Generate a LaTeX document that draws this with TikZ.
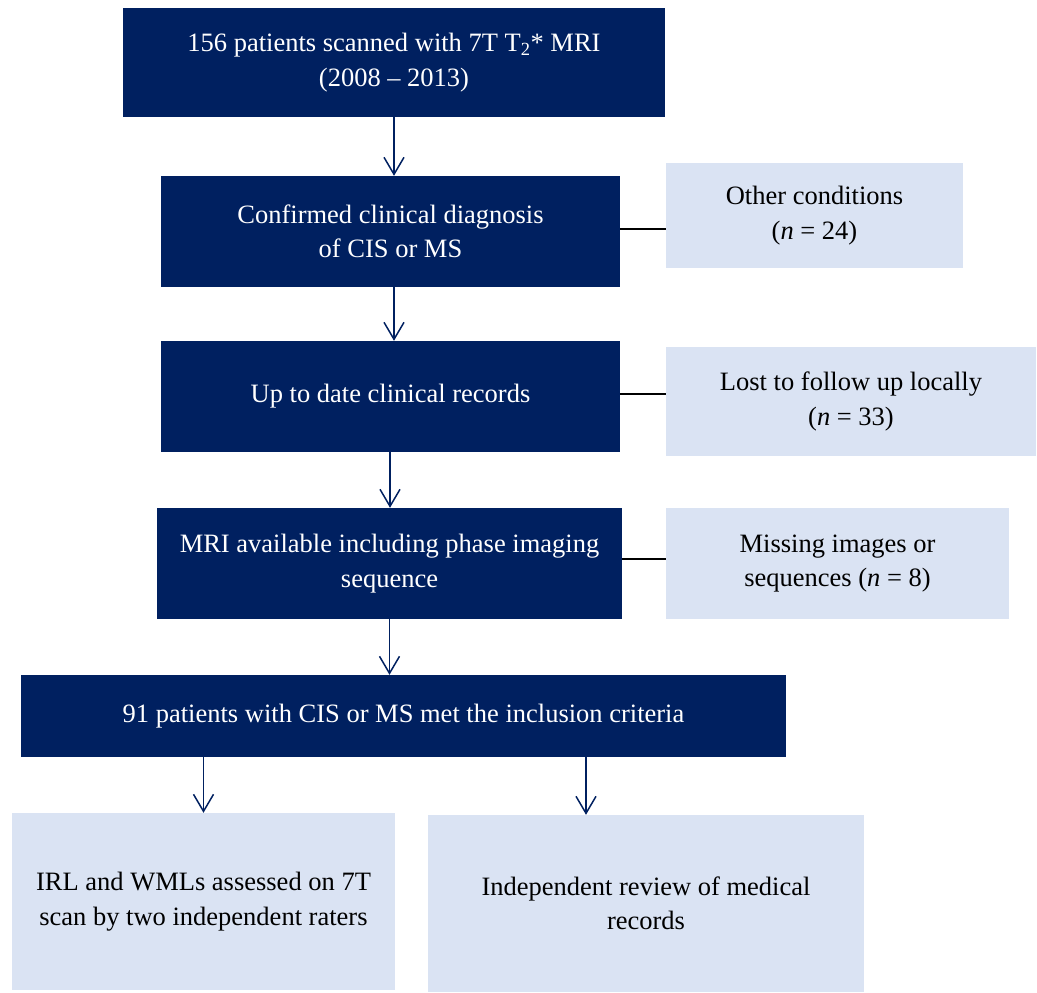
\documentclass[tikz,border=0pt]{standalone}
\usepackage{fontspec}
\setmainfont{Liberation Serif}
\usetikzlibrary{arrows.meta}
\definecolor{navy}{HTML}{002060}
\definecolor{pale}{HTML}{DAE3F3}
\begin{document}
\begin{tikzpicture}[x=1pt,y=-1pt,
  dark/.style={fill=navy,draw=none,text=white,align=center,inner sep=0pt,
    font=\fontsize{26.5}{34.5}\selectfont},
  light/.style={fill=pale,draw=none,text=black,align=center,inner sep=0pt,
    font=\fontsize{26.5}{34.5}\selectfont},
  arr/.style={draw=navy,line width=1.5pt,-{Straight Barb[length=17pt,width=20pt,line width=1.5pt]}},
  side/.style={draw=black,line width=1.5pt}]
\useasboundingbox (0,0) rectangle (1037,993);
\node[dark,minimum width=542pt,minimum height=109pt] (n1) at (394,62.5)
  {156 patients scanned with 7T T\textsubscript{2}* MRI\\(2008 -- 2013)};
\node[dark,minimum width=459pt,minimum height=111pt] (n2) at (390.5,231.5)
  {Confirmed clinical diagnosis\\of CIS or MS};
\node[light,minimum width=297pt,minimum height=105pt] (o1) at (814.5,215.5)
  {Other conditions\\(\textit{n} = 24)};
\node[dark,minimum width=459pt,minimum height=111pt] (n3) at (390.5,396.5)
  {Up to date clinical records};
\node[light,minimum width=370pt,minimum height=109pt] (o2) at (851,401.5)
  {Lost to follow up locally\\(\textit{n} = 33)};
\node[dark,minimum width=465pt,minimum height=111pt] (n4) at (389.5,563.5)
  {MRI available including phase imaging\\sequence};
\node[light,minimum width=343pt,minimum height=111pt] (o3) at (837.5,563.5)
  {Missing images or\\sequences (\textit{n} = 8)};
\node[dark,minimum width=765pt,minimum height=82pt] (n5) at (403.5,716)
  {91 patients with CIS or MS met the inclusion criteria};
\node[light,minimum width=383pt,minimum height=177pt] (r1) at (203.5,901.5)
  {IRL and WMLs assessed on 7T\\scan by two independent raters};
\node[light,minimum width=436pt,minimum height=177pt] (r2) at (646,903.5)
  {Independent review of medical\\records};
% arrows
\draw[arr] (n1.south) -- (n1.south |- n2.north);
\draw[arr] ([xshift=3.5pt]n2.south) -- ([xshift=3.5pt]n3.north);
\draw[arr] ([xshift=-0.5pt]n3.south) -- ([xshift=-0.5pt]n3.south |- n4.north);
\draw[arr] (n4.south) -- (n4.south |- n5.north);
\draw[arr] (r1.north |- n5.south) -- (r1.north);
\draw[arr] ([xshift=-60pt]r2.north |- n5.south) -- ([xshift=-60pt]r2.north);
% side lines
\draw[side] ([yshift=2.5pt]n2.east) -- ([yshift=2.5pt]n2.east -| o1.west);
\draw[side] ([yshift=2.5pt]n3.east) -- ([yshift=2.5pt]n3.east -| o2.west);
\draw[side] ([yshift=4.5pt]n4.east) -- ([yshift=4.5pt]n4.east -| o3.west);
\end{tikzpicture}
\end{document}
